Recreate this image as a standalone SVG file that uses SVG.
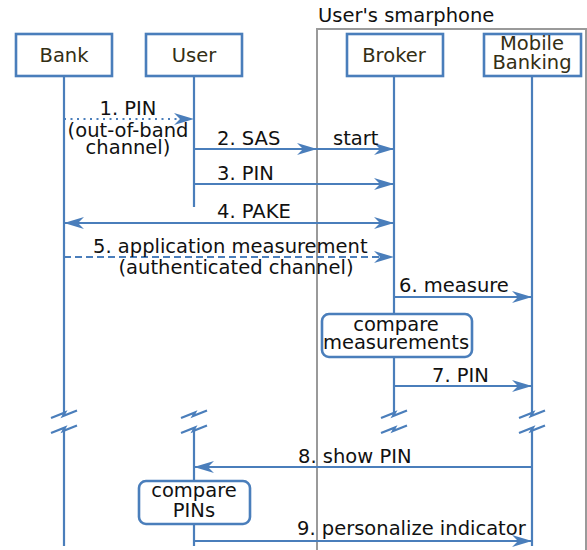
<svg xmlns="http://www.w3.org/2000/svg" width="587" height="550" viewBox="0 0 587 550">
<style>
text{font-family:"DejaVu Sans","Liberation Sans",sans-serif;font-size:19.5px;fill:#111}
.nt{fill:#332e14;text-anchor:middle}
.c{text-anchor:middle}
.box{fill:#fff;stroke:#4a7ebb;stroke-width:2.6}
.life{stroke:#4a7ebb;stroke-width:2.2;fill:none}
.msg{stroke:#4a7ebb;stroke-width:2.2;fill:none}
.brk{stroke:#4a7ebb;stroke-width:2.2;fill:none}
</style>
<defs>
<marker id="ah" viewBox="0 0 20 14" refX="20" refY="7" markerWidth="20" markerHeight="14" markerUnits="userSpaceOnUse" orient="auto-start-reverse">
<path d="M0,1 L20,7 L0,13 L6,7 Z" fill="#4a7ebb"/>
</marker>
<path id="bk" d="M-13,4 L1,-1.5 L-1,2 L13,-3.5"/>
</defs>
<g id="frame">
<rect x="317" y="29" width="269" height="530" fill="none" stroke="#9a9a9a" stroke-width="2"/>
<text x="318" y="22">User's smarphone</text>
</g>
<g id="lifelines">
<path class="life" d="M64,76 V413 M64,430 V546"/>
<path class="life" d="M194,76 V207 M194,430 V546"/>
<path class="life" d="M394,76 V314 M394,357 V413"/>
<path class="life" d="M532,76 V413 M532,430 V546"/>
</g>
<g id="breaks" class="brk">
<use href="#bk" x="64" y="414"/><use href="#bk" x="64" y="429"/>
<use href="#bk" x="194" y="414"/><use href="#bk" x="194" y="429"/>
<use href="#bk" x="394" y="414"/><use href="#bk" x="394" y="429"/>
<use href="#bk" x="532" y="414"/><use href="#bk" x="532" y="429"/>
</g>
<g id="bank"><rect class="box" x="16" y="34" width="96" height="42"/><text class="nt" x="64" y="62">Bank</text></g>
<g id="user"><rect class="box" x="146" y="34" width="96" height="42"/><text class="nt" x="194" y="62">User</text></g>
<g id="broker"><rect class="box" x="347" y="34" width="96" height="42"/><text class="nt" x="394" y="62">Broker</text></g>
<g id="mobile"><rect class="box" x="484" y="34" width="97" height="42"/><text class="nt" x="532" y="50">Mobile</text><text class="nt" x="532" y="69">Banking</text></g>
<g id="connectors">
<line class="msg" x1="64" y1="119" x2="194" y2="119" stroke-dasharray="2 4.5" marker-end="url(#ah)"/>
<line class="msg" x1="194" y1="149" x2="317" y2="149" marker-end="url(#ah)"/>
<line class="msg" x1="317" y1="149" x2="394" y2="149" marker-end="url(#ah)"/>
<line class="msg" x1="194" y1="184" x2="394" y2="184" marker-end="url(#ah)"/>
<line class="msg" x1="64" y1="223" x2="394" y2="223" marker-start="url(#ah)" marker-end="url(#ah)"/>
<line class="msg" x1="64" y1="257" x2="394" y2="257" stroke-dasharray="7 4" marker-end="url(#ah)"/>
<line class="msg" x1="394" y1="297" x2="532" y2="297" marker-end="url(#ah)"/>
<line class="msg" x1="394" y1="386" x2="532" y2="386" marker-end="url(#ah)"/>
<line class="msg" x1="532" y1="467" x2="194" y2="467" marker-end="url(#ah)"/>
<line class="msg" x1="194" y1="541" x2="532" y2="541" marker-end="url(#ah)"/>
</g>
<g id="labels">
<text class="c" x="128" y="115">1. PIN</text>
<text class="c" x="128" y="137">(out-of-band</text>
<text class="c" x="128" y="154">channel)</text>
<text x="217" y="145">2. SAS</text>
<text x="333" y="145">start</text>
<text x="217" y="180">3. PIN</text>
<text x="217" y="218">4. PAKE</text>
<text x="93" y="253">5. application measurement</text>
<text class="c" x="236" y="274">(authenticated channel)</text>
<text x="399" y="292">6. measure</text>
<text x="432" y="382">7. PIN</text>
<text x="298" y="463">8. show PIN</text>
<text x="297" y="535">9. personalize indicator</text>
</g>
<g id="cmpmeas"><rect class="box" x="322" y="314" width="150" height="43" rx="7"/><text class="c" x="396" y="331">compare</text><text class="c" x="396" y="349">measurements</text></g>
<g id="cmppins"><rect class="box" x="139" y="481" width="111" height="43" rx="7"/><text class="c" x="194" y="497">compare</text><text class="c" x="194" y="517">PINs</text></g>
</svg>
